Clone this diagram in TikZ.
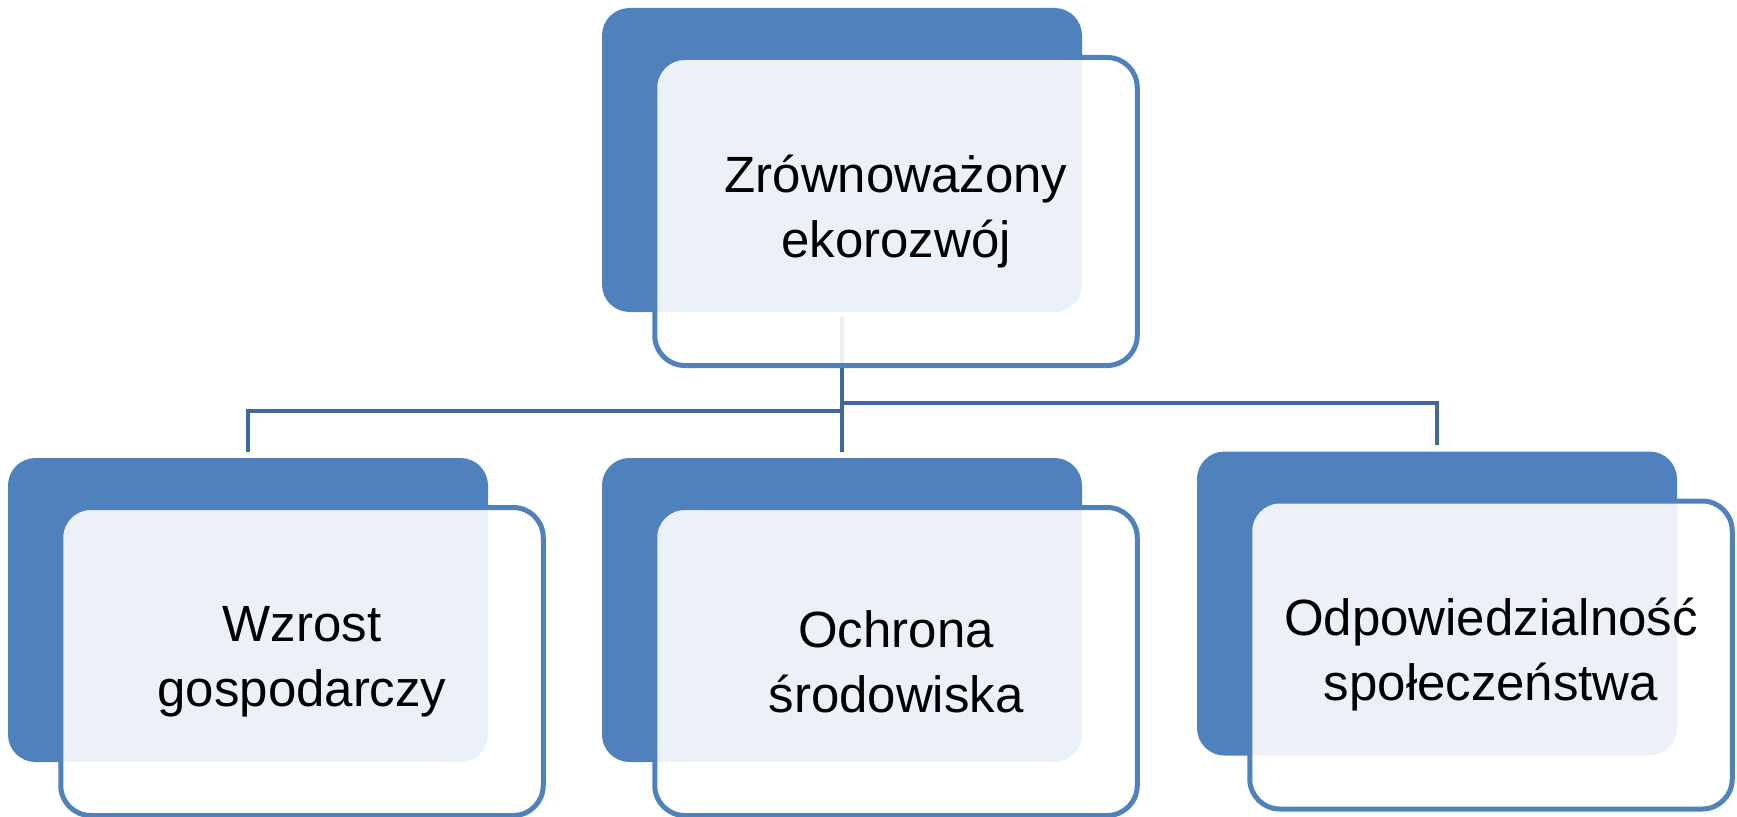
\documentclass[tikz,border=0pt]{standalone}
\usepackage{fontspec}
\setmainfont{Liberation Sans}

\definecolor{backblue}{RGB}{79,129,189}
\definecolor{linkblue}{RGB}{64,104,155}

\begin{document}
\begin{tikzpicture}[
    % Styles
    back/.style={fill=backblue, draw=none, rounded corners=0.55cm, minimum width=9.6cm, minimum height=6.08cm, inner sep=0pt},
    front/.style={fill=white, fill opacity=0.89, text opacity=1, draw=backblue, line width=0.1cm, rounded corners=0.6cm, minimum width=9.65cm, minimum height=6.16cm, inner sep=0pt, align=center, font=\fontsize{29}{37}\selectfont},
    link/.style={draw=linkblue, line width=0.085cm},
]
\useasboundingbox (0,0) rectangle (34.74,-16.34);

% Back panels
\node[back] (topback) at (16.84, -3.20) {};
\node[back] (leftback) at (4.96, -12.20) {};
\node[back] (midback) at (16.84, -12.20) {};
\node[back] (rightback) at (28.74, -12.07) {};

% Connectors (under the front panels)
\draw[link] ([yshift=-0.1cm]topback.south) |- ([yshift=0.94cm]leftback.north) -- ([yshift=0.12cm]leftback.north);
\draw[link] ([yshift=-0.1cm]topback.south) -- ([yshift=0.12cm]midback.north);
\draw[link] ([yshift=-0.1cm]topback.south) |- ([yshift=0.96cm]rightback.north) -- ([yshift=0.12cm]rightback.north);

% Front panels with text
\node[front] (topbox) at ([shift={(1.08,-1.03)}]topback.center) {Zrównoważony\\ekorozwój};
\node[front] (leftbox) at ([shift={(1.08,-1.03)}]leftback.center) {Wzrost\\gospodarczy};
\node[front] (midbox) at ([shift={(1.08,-1.03)}]midback.center) {Ochrona\\środowiska};
\node[front] (rightbox) at ([shift={(1.08,-1.03)}]rightback.center) {Odpowiedzialność\\społeczeństwa};

\end{tikzpicture}
\end{document}
